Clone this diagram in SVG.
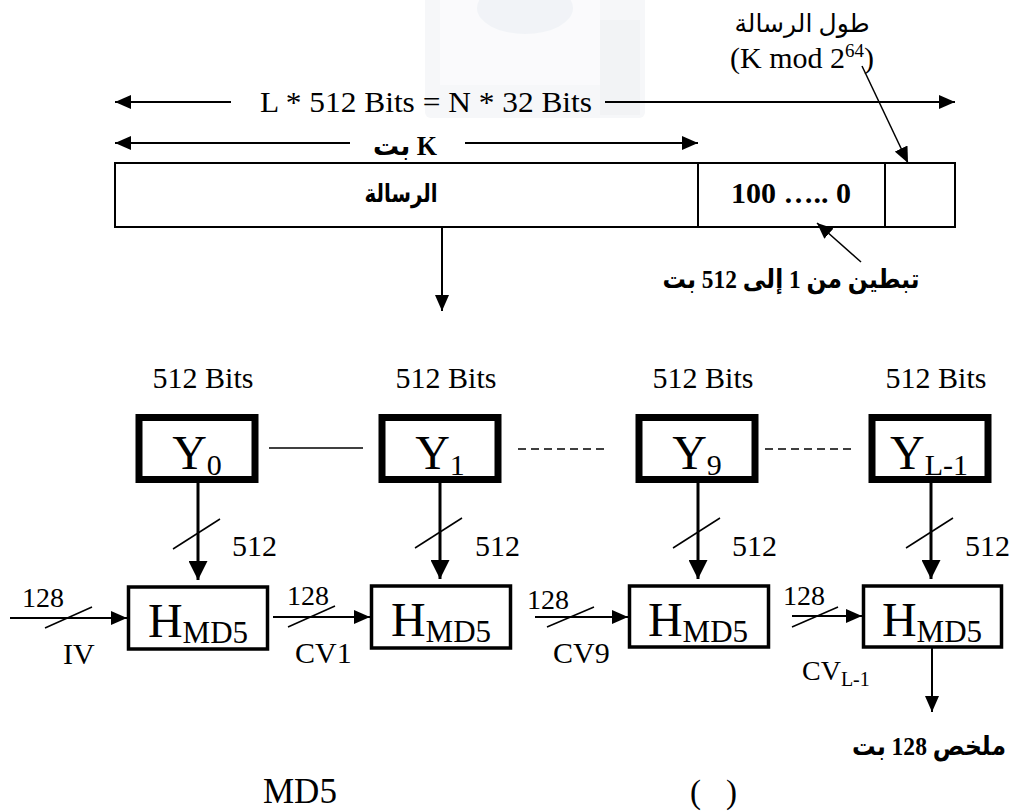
<svg xmlns="http://www.w3.org/2000/svg" width="1015" height="812" viewBox="0 0 1015 812">
<style>
  .t { font-family: "Liberation Serif", "Times New Roman", serif; fill: #000; }
  .ar { font-family: "Liberation Serif", "DejaVu Sans", "Noto Sans", sans-serif; fill: #000; }
  .b { font-weight: bold; }
  .ln { stroke: #000; stroke-width: 2; fill: none; }
  .thin { stroke: #000; stroke-width: 1.5; fill: none; }
  .thick { stroke: #000; stroke-width: 3; fill: none; }
  .box { fill: #fff; stroke: #000; stroke-width: 2; }
  .ybox { fill: #fff; stroke: #000; stroke-width: 7; }
  .hbox { fill: #fff; stroke: #000; stroke-width: 3.5; }
  .dash { stroke: #000; stroke-width: 1.5; stroke-dasharray: 8 5; fill: none; }
</style>
<defs>
  <marker id="ah" markerUnits="userSpaceOnUse" markerWidth="16" markerHeight="14" refX="16" refY="7" orient="auto-start-reverse">
    <path d="M0,0 L16,7 L0,14 z" fill="#000"/>
  </marker>
  <marker id="ahB" markerUnits="userSpaceOnUse" markerWidth="19" markerHeight="19" refX="19" refY="9.5" orient="auto">
    <path d="M0,0 L19,9.5 L0,19 z" fill="#000"/>
  </marker>
</defs>
<rect width="1015" height="812" fill="#fff"/>

<g id="watermark" opacity="0.5">
  <rect x="425" y="-10" width="220" height="128" rx="6" fill="#eef0f4"/>
  <rect x="440" y="-10" width="160" height="95" fill="#f6f7fa"/>
  <ellipse cx="525" cy="8" rx="48" ry="26" fill="#e4e9f1"/>
  <rect x="600" y="20" width="40" height="95" fill="#e6e8ec"/>
</g>

<g id="top-labels">
  <text class="ar" x="802" y="32" font-size="25" text-anchor="middle" direction="rtl">طول الرسالة</text>
  <text class="t" x="730" y="68" font-size="30">(K mod 2<tspan dy="-11" font-size="19">64</tspan><tspan dy="11">)</tspan></text>
  <text class="t" x="426" y="112" font-size="30" text-anchor="middle" textLength="332" lengthAdjust="spacingAndGlyphs">L * 512 Bits = N * 32 Bits</text>
  <text class="ar b" x="405" y="155" font-size="27" text-anchor="middle" direction="ltr" textLength="64" lengthAdjust="spacingAndGlyphs">بت K</text>
</g>

<g id="message-block">
  <rect class="box" x="115" y="163" width="840" height="64"/>
  <line class="ln" x1="698" y1="163" x2="698" y2="227"/>
  <line class="ln" x1="885" y1="163" x2="885" y2="227"/>
  <text class="ar b" x="401" y="202" font-size="25" text-anchor="middle" direction="rtl" textLength="73" lengthAdjust="spacingAndGlyphs">الرسالة</text>
  <text class="t b" x="791" y="203" font-size="30" text-anchor="middle" direction="ltr" unicode-bidi="bidi-override">100 ….. 0</text>
</g>

<g id="padding-label">
  <text class="ar b" x="791" y="288" font-size="26" text-anchor="middle" direction="rtl" textLength="257" lengthAdjust="spacingAndGlyphs">تبطين من 1 إلى 512  بت</text>
</g>

<g id="Y0">
  <text class="t" x="203" y="388" font-size="30" text-anchor="middle">512 Bits</text>
  <rect class="ybox" x="139" y="417.5" width="116" height="62"/>
  <text class="t" x="197" y="469" font-size="48" text-anchor="middle">Y<tspan font-size="30" dy="6">0</tspan></text>
</g>
<g id="Y1">
  <text class="t" x="446" y="388" font-size="30" text-anchor="middle">512 Bits</text>
  <rect class="ybox" x="382" y="417.5" width="116" height="62"/>
  <text class="t" x="440" y="469" font-size="48" text-anchor="middle">Y<tspan font-size="30" dy="6">1</tspan></text>
</g>
<g id="Y9">
  <text class="t" x="703" y="388" font-size="30" text-anchor="middle">512 Bits</text>
  <rect class="ybox" x="639" y="417.5" width="116" height="62"/>
  <text class="t" x="697" y="469" font-size="48" text-anchor="middle">Y<tspan font-size="30" dy="6">9</tspan></text>
</g>
<g id="YL-1">
  <text class="t" x="936" y="388" font-size="30" text-anchor="middle">512 Bits</text>
  <rect class="ybox" x="872" y="417.5" width="116" height="62"/>
  <text class="t" x="929" y="469" font-size="48" text-anchor="middle">Y<tspan font-size="30" dy="6">L-1</tspan></text>
</g>

<g id="H1">
  <rect class="hbox" x="128.5" y="587" width="139" height="62"/>
  <text class="t" x="198" y="637" font-size="48" text-anchor="middle">H<tspan font-size="31" dy="6">MD5</tspan></text>
</g>
<g id="H2">
  <rect class="hbox" x="371.5" y="586" width="139" height="62"/>
  <text class="t" x="441" y="636" font-size="48" text-anchor="middle">H<tspan font-size="31" dy="6">MD5</tspan></text>
</g>
<g id="H3">
  <rect class="hbox" x="629.5" y="586" width="139" height="61"/>
  <text class="t" x="698" y="636" font-size="48" text-anchor="middle">H<tspan font-size="31" dy="6">MD5</tspan></text>
</g>
<g id="H4">
  <rect class="hbox" x="863.5" y="586" width="138" height="61"/>
  <text class="t" x="932" y="636" font-size="48" text-anchor="middle">H<tspan font-size="31" dy="6">MD5</tspan></text>
</g>

<g id="output-label">
  <text class="ar b" x="929" y="755" font-size="26" text-anchor="middle" direction="rtl" textLength="154" lengthAdjust="spacingAndGlyphs">ملخص 128 بت</text>
</g>

<g id="caption">
  <text class="t" x="263" y="803" font-size="35">MD5</text>
  <text class="t" x="690" y="803" font-size="33">(</text>
  <text class="t" x="726" y="803" font-size="33">)</text>
</g>

<g id="connectors">
  <line class="ln" x1="231" y1="102" x2="115" y2="102" marker-end="url(#ah)"/>
  <line class="ln" x1="605" y1="102" x2="955" y2="102" marker-end="url(#ah)"/>
  <line class="ln" x1="350" y1="143" x2="115" y2="143" marker-end="url(#ah)"/>
  <line class="ln" x1="465" y1="143" x2="698" y2="143" marker-end="url(#ah)"/>
  <line class="thin" x1="862" y1="66" x2="908" y2="163" marker-end="url(#ah)"/>
  <line class="thin" x1="861" y1="262" x2="817" y2="223" marker-end="url(#ah)"/>
  <line class="ln" x1="442" y1="227" x2="442" y2="311" marker-end="url(#ah)"/>
  <line class="thin" x1="269" y1="448" x2="363" y2="448"/>
  <line class="dash" x1="518" y1="449" x2="608" y2="449"/>
  <line class="dash" x1="765" y1="449" x2="855" y2="449"/>
  <line class="thick" x1="198" y1="483" x2="198" y2="580" marker-end="url(#ahB)"/>
  <line class="thick" x1="440" y1="483" x2="440" y2="579" marker-end="url(#ahB)"/>
  <line class="thick" x1="698" y1="483" x2="698" y2="579" marker-end="url(#ahB)"/>
  <line class="thick" x1="931" y1="483" x2="931" y2="579" marker-end="url(#ahB)"/>
  <line class="thin" x1="173" y1="549" x2="220" y2="519"/>
  <line class="thin" x1="415" y1="548" x2="462" y2="518"/>
  <line class="thin" x1="673" y1="548" x2="720" y2="518"/>
  <line class="thin" x1="906" y1="548" x2="953" y2="518"/>
  <text class="t" x="232" y="556" font-size="30">512</text>
  <text class="t" x="475" y="556" font-size="30">512</text>
  <text class="t" x="732" y="556" font-size="30">512</text>
  <text class="t" x="965" y="556" font-size="30">512</text>
  <line class="ln" x1="10" y1="618" x2="127" y2="618" marker-end="url(#ah)"/>
  <line class="ln" x1="273" y1="617" x2="370" y2="617" marker-end="url(#ah)"/>
  <line class="ln" x1="535" y1="617" x2="628" y2="617" marker-end="url(#ah)"/>
  <line class="ln" x1="792" y1="616" x2="862" y2="616" marker-end="url(#ah)"/>
  <line class="thin" x1="45" y1="628" x2="92" y2="607"/>
  <line class="thin" x1="288" y1="627" x2="335" y2="606"/>
  <line class="thin" x1="547" y1="627" x2="594" y2="607"/>
  <line class="thin" x1="792" y1="627" x2="838" y2="607"/>
  <text class="t" x="22" y="607" font-size="28">128</text>
  <text class="t" x="287" y="605" font-size="28">128</text>
  <text class="t" x="527" y="609" font-size="28">128</text>
  <text class="t" x="783" y="605" font-size="28">128</text>
  <text class="t" x="63" y="664" font-size="30">IV</text>
  <text class="t" x="295" y="663" font-size="30">CV1</text>
  <text class="t" x="553" y="663" font-size="30">CV9</text>
  <text class="t" x="802" y="680" font-size="28">CV<tspan font-size="20" dy="6">L-1</tspan></text>
  <line class="ln" x1="932" y1="647" x2="932" y2="712" marker-end="url(#ah)"/>
</g>
</svg>
